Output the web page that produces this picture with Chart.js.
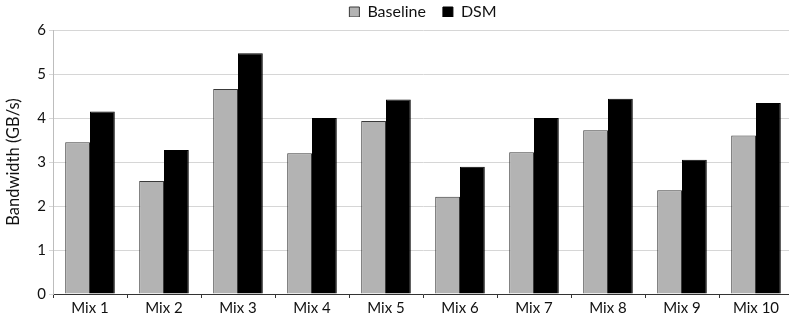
<!DOCTYPE html>
<html>
<head>
<meta charset="utf-8">
<script src="https://cdn.jsdelivr.net/npm/chart.js@4/dist/chart.umd.min.js"></script>
<style>
  html, body { margin: 0; padding: 0; background: #fff; overflow: hidden; }
  #wrap { width: 789px; height: 321px; overflow: hidden; }
  canvas { display: block; }
</style>
</head>
<body>
<div id="wrap"><canvas id="c" width="793" height="321"></canvas></div>
<script>
// Workload mixes and measured bandwidth (GB/s)
const categories = ["Mix 1", "Mix 2", "Mix 3", "Mix 4", "Mix 5", "Mix 6", "Mix 7", "Mix 8", "Mix 9", "Mix 10"];
const baselineValues = [3.45, 2.57, 4.66, 3.20, 3.93, 2.21, 3.22, 3.72, 2.36, 3.60];
const dsmValues = [4.15, 3.27, 5.47, 4.00, 4.42, 2.89, 4.00, 4.44, 3.05, 4.34];
const yTicks = [0, 1, 2, 3, 4, 5, 6];
const yTitle = "Bandwidth (GB/s)";

const FONT = "Lato";
const LEGEND_PAD = 17;   // spacing between legend entries
const LEGEND_LIFT = 13;  // pulls the legend row up towards the top edge

// Fixed legend band height, then nudge the legend row upwards
const legendPlacement = {
  id: "legendPlacement",
  beforeInit(chart) {
    const origFit = chart.legend.fit;
    chart.legend.fit = function () {
      origFit.bind(chart.legend)();
      this.height = 30;
    };
  },
  afterLayout(chart) {
    const lg = chart.legend;
    lg.top -= LEGEND_LIFT;
    lg.bottom -= LEGEND_LIFT;
  }
};

new Chart(document.getElementById("c"), {
  type: "bar",
  data: {
    labels: categories,
    datasets: [
      {
        label: "Baseline",
        data: baselineValues,
        backgroundColor: "#b3b3b3",
        borderColor: "#3a3a3a",
        borderWidth: 1
      },
      {
        label: "DSM",
        data: dsmValues,
        backgroundColor: "#000000",
        borderColor: "#000000",
        borderWidth: 1
      }
    ]
  },
  options: {
    responsive: false,
    animation: false,
    devicePixelRatio: 1,
    layout: { padding: 0 },
    datasets: {
      bar: { categoryPercentage: 0.67, barPercentage: 1.0 }
    },
    plugins: {
      tooltip: { enabled: false },
      legend: {
        position: "top",
        fullSize: false,
        labels: {
          font: { family: FONT, size: 16 },
          color: "#111",
          boxWidth: 10,
          boxHeight: 10,
          padding: LEGEND_PAD
        }
      }
    },
    scales: {
      x: {
        afterFit(scale) { scale.height = 27; },
        grid: {
          display: true,
          drawOnChartArea: false,
          drawTicks: true,
          tickLength: 4,
          color: "#333",
          offset: true
        },
        border: { display: true, color: "#333", width: 1 },
        ticks: {
          font: { family: FONT, size: 15 },
          color: "#111",
          padding: 1
        }
      },
      y: {
        min: 0,
        max: 6,
        afterFit(scale) { scale.width = 53; },
        afterBuildTicks(scale) { scale.ticks = yTicks.map(v => ({ value: v })); },
        grid: {
          color: "#d6d6d6",
          lineWidth: 1,
          drawTicks: true,
          tickLength: 4
        },
        border: { display: true, color: "#bdbdbd", width: 1 },
        ticks: {
          font: { family: FONT, size: 15 },
          color: "#111",
          padding: 3
        },
        title: {
          display: true,
          text: yTitle,
          font: { family: FONT, size: 16.5 },
          color: "#111",
          padding: { top: 4, bottom: 0 }
        }
      }
    }
  },
  plugins: [legendPlacement]
});
</script>
</body>
</html>
